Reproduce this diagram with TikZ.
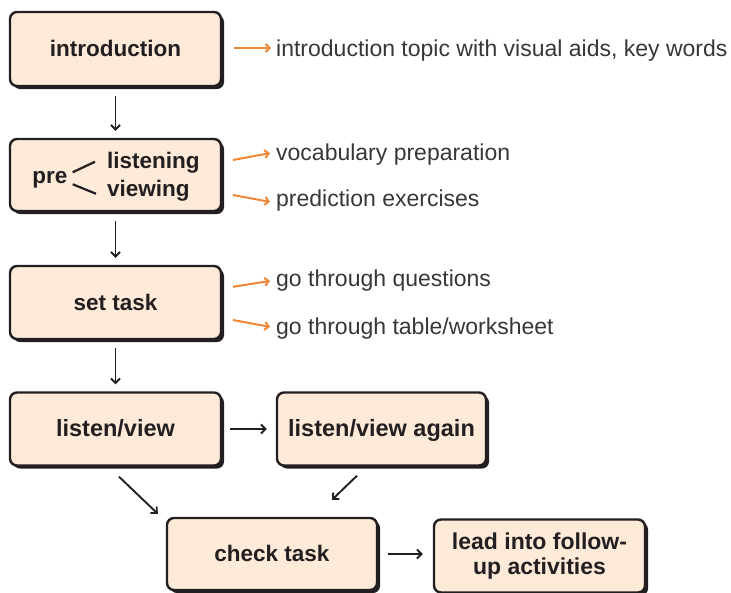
\documentclass[tikz,border=0pt]{standalone}
\usepackage{fontspec}
\setmainfont{Liberation Sans}
\usetikzlibrary{arrows.meta,shadows}
\definecolor{peach}{RGB}{253,234,216}
\definecolor{borange}{RGB}{240,135,55}
\definecolor{txtgray}{RGB}{55,55,55}
\definecolor{ink}{RGB}{35,31,32}
\begin{document}
\begin{tikzpicture}[x=1pt,y=-1pt,
  box/.style={draw=ink, line width=2.4pt, rounded corners=7pt, fill=peach,
    drop shadow={shadow xshift=3pt, shadow yshift=-3pt, opacity=1, fill=ink},
    inner sep=0pt, font=\fontsize{22.5}{25}\selectfont\bfseries, text=ink, align=center},
  onel/.style={text height=16pt, text depth=1pt},
  side/.style={anchor=west, inner sep=0pt, font=\fontsize{23}{26}\selectfont, text=txtgray,
    text height=20pt, text depth=2.6pt},
  btxt/.style={inner sep=0pt, font=\fontsize{22.5}{25}\selectfont\bfseries, text=ink},
  arr/.style={draw=ink, line width=1.9pt, -{Straight Barb[length=4.5pt,width=9pt]}},
  oarr/.style={draw=borange, line width=2pt, -{Straight Barb[length=4pt,width=8pt]}},
  fork/.style={draw=ink, line width=2.2pt}
]
\useasboundingbox (0,0) rectangle (731,592);

% boxes
\node[box, onel, minimum width=211pt, minimum height=74pt] (intro) at (115.5,49) {introduction};
\node[box, minimum width=211pt, minimum height=72pt] (pre) at (115.5,175) {};
\node[box, onel, minimum width=211pt, minimum height=73pt] (settask) at (115.5,302.5) {set task};
\node[box, onel, minimum width=211pt, minimum height=73pt, font=\fontsize{23.5}{26}\selectfont\bfseries] (lv) at (115.5,429) {listen/view};
\node[box, onel, minimum width=209pt, minimum height=73pt, font=\fontsize{23.5}{26}\selectfont\bfseries] (again) at (381.5,429) {listen/view again};
\node[box, onel, minimum width=210pt, minimum height=72pt] (check) at (272,554) {check task};
\node[box, minimum width=211pt, minimum height=73pt, font=\fontsize{23}{25}\selectfont\bfseries] (lead) at (539.5,556) {lead into follow-\\up activities};

% inside pre box
\node[btxt, anchor=base] (prew) at (50,183) {pre};
\node[btxt, anchor=base west] (listening) at (107,168.5) {listening};
\node[btxt, anchor=base west] (viewing) at (107,196.5) {viewing};
\draw[fork] ([xshift=5pt,yshift=7pt]prew.east) -- ([xshift=-12pt,yshift=1pt]listening.west);
\draw[fork] ([xshift=5pt,yshift=-5pt]prew.east) -- ([xshift=-11pt,yshift=-3pt]viewing.west);

% side texts
\node[side] (itxt) at (276,48) {introduction topic with visual aids, key words};
\node[side] (vocab) at (276,152) {vocabulary preparation};
\node[side] (pred) at (276,198) {prediction exercises};
\node[side] (quest) at (276,278) {go through questions};
\node[side] (table) at (276,326) {go through table/worksheet};

% orange arrows
\draw[oarr, shorten <=12pt, shorten >=5pt] (intro.east |- itxt.west) -- (itxt.west);
\draw[oarr, shorten <=11pt, shorten >=6pt] ([yshift=13pt]pre.east) -- (vocab.west);
\draw[oarr, shorten <=11pt, shorten >=6pt] ([yshift=-18pt]pre.east) -- ([yshift=-5pt]pred.west);
\draw[oarr, shorten <=11pt, shorten >=6pt] ([yshift=14pt]settask.east) -- ([yshift=-2pt]quest.west);
\draw[oarr, shorten <=11pt, shorten >=6pt] ([yshift=-15.5pt]settask.east) -- ([yshift=-2pt]table.west);

% black arrows
\draw[arr, shorten <=9pt, shorten >=7pt] (intro.south) -- (pre.north);
\draw[arr, shorten <=9pt, shorten >=7pt] (pre.south) -- (settask.north);
\draw[arr, shorten <=8pt, shorten >=7pt] (settask.south) -- (lv.north);
\draw[arr, shorten <=8pt, shorten >=9pt] (lv.east) -- (again.west);
\draw[arr] ([xshift=3.5pt,yshift=-10pt]lv.south) -- ([xshift=-8pt,yshift=3pt]check.north west);
\draw[arr] ([xshift=-24.5pt,yshift=-9pt]again.south) -- ([xshift=60pt,yshift=17pt]check.north);
\draw[arr, shorten <=10pt, shorten >=10pt] (check.east) -- (check.east -| lead.west);
\end{tikzpicture}
\end{document}
